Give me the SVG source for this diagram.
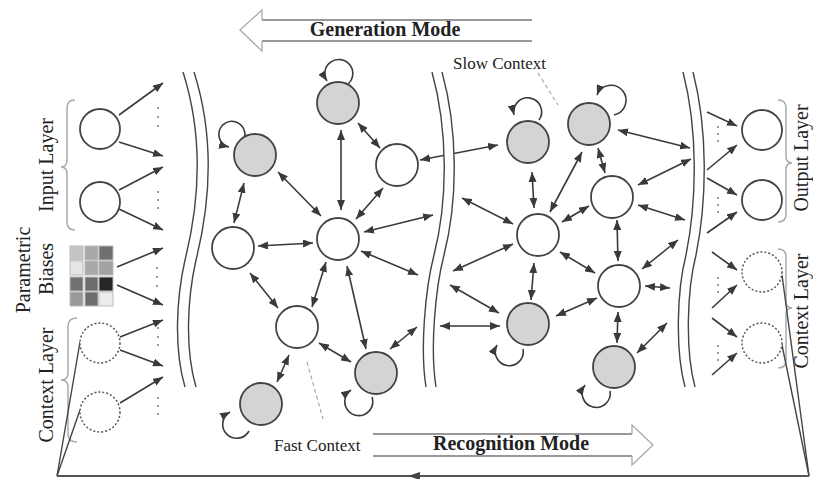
<svg xmlns="http://www.w3.org/2000/svg" width="813" height="479" viewBox="0 0 813 479">
<style>
.t{font-family:"Liberation Serif","Times New Roman",serif;fill:#222}
.b{font-weight:bold;font-size:20px}
.lab{font-size:20px}
.sm{font-size:17px}
.n{stroke:#444;stroke-width:1.8;fill:#fff}
.g{fill:#d4d4d4}
.d{stroke:#555;stroke-width:1.5;stroke-dasharray:2 2;fill:#fff}
.c line,.c path{stroke:#3a3a3a;stroke-width:1.6;fill:none}
.dbl{marker-start:url(#ah);marker-end:url(#ah)}
.one{marker-end:url(#ah)}
.loop{marker-end:url(#ah)}
.bd{stroke:#444;stroke-width:1.4;fill:none}
.band{stroke:#fff;stroke-width:10;fill:none}
.br{stroke:#aaa;stroke-width:1.5;fill:none}
.dot{fill:#777}
.mode{fill:none;stroke-width:1.3}
</style>
<defs>
<marker id="ah" viewBox="0 0 10 8" refX="10" refY="4" markerWidth="10" markerHeight="8" markerUnits="userSpaceOnUse" orient="auto-start-reverse">
<path d="M0,0 L10,4 L0,8 z" fill="#3a3a3a"/>
</marker>
</defs>

<!-- mode arrows -->
<g id="generation-mode">
<path class="mode" stroke="#777" d="M532,20 L262,20 M262,41 L532,41"/>
<path class="mode" stroke="#aaa" d="M262,20 L262,10 L240,30 L262,51 L262,41"/>
<text class="t b" x="385" y="36" text-anchor="middle">Generation Mode</text>
</g>
<g id="recognition-mode">
<path class="mode" stroke="#777" d="M373,434 L632,434 M632,456 L373,456"/>
<path class="mode" stroke="#aaa" d="M632,434 L632,425 L653,445 L632,465 L632,456"/>
<text class="t b" x="433" y="450">Recognition Mode</text>
</g>

<text class="t sm" x="453" y="69">Slow Context</text>
<text class="t sm" x="274" y="451">Fast Context</text>
<line x1="538" y1="73" x2="558" y2="105" stroke="#aaa" stroke-width="1.2" stroke-dasharray="4 3"/>
<line x1="307" y1="362" x2="323" y2="419" stroke="#aaa" stroke-width="1.2" stroke-dasharray="4 3"/>

<!-- side labels -->
<text class="t lab" text-anchor="middle" transform="translate(53,165) rotate(-90)">Input Layer</text>
<text class="t lab" text-anchor="middle" transform="translate(30,270) rotate(-90)">Parametric</text>
<text class="t lab" text-anchor="middle" transform="translate(53,269) rotate(-90)">Biases</text>
<text class="t lab" text-anchor="middle" transform="translate(53,385) rotate(-90)">Context Layer</text>
<text class="t lab" text-anchor="middle" transform="translate(808,158) rotate(-90)">Output Layer</text>
<text class="t lab" text-anchor="middle" transform="translate(808,311) rotate(-90)">Context Layer</text>

<!-- braces -->
<path class="br" d="M75,100 Q67,100 67,108 L67,160 Q67,167 61,167 Q67,167 67,174 L67,222 Q67,230 75,230"/>
<path class="br" d="M77,318 Q68,318 68,326 L68,373 Q68,380 61,380 Q68,380 68,387 L68,434 Q68,442 77,442"/>
<path class="br" d="M778,100 Q786,100 786,108 L786,156 Q786,163 792,163 Q786,163 786,170 L786,214 Q786,222 778,222"/>
<path class="br" d="M778,249 Q786,249 786,257 L786,301 Q786,308 792,308 Q786,308 786,315 L786,360 Q786,368 778,368"/>

<!-- parametric bias grid -->
<g id="bias-grid" stroke="#bbb" stroke-width="1">
<rect x="70" y="246" width="13" height="14" fill="#c4c4c4"/>
<rect x="85" y="246" width="13" height="14" fill="#a9a9a9"/>
<rect x="99" y="246" width="14" height="14" fill="#707070"/>
<rect x="70" y="261" width="13" height="14" fill="#e6e6e6"/>
<rect x="85" y="261" width="13" height="14" fill="#a9a9a9"/>
<rect x="99" y="261" width="14" height="14" fill="#a2a2a2"/>
<rect x="70" y="277" width="13" height="14" fill="#727272"/>
<rect x="85" y="277" width="13" height="14" fill="#6c6c6c"/>
<rect x="99" y="277" width="14" height="14" fill="#262626"/>
<rect x="70" y="292" width="13" height="14" fill="#9a9a9a"/>
<rect x="85" y="292" width="13" height="14" fill="#6c6c6c"/>
<rect x="99" y="292" width="14" height="14" fill="#ececec"/>
</g>

<!-- dots -->
<g id="dots" class="dot">
<circle cx="158" cy="108" r="1"/><circle cx="158" cy="117" r="1"/><circle cx="158" cy="126" r="1"/>
<circle cx="158" cy="192" r="1"/><circle cx="158" cy="200" r="1"/><circle cx="158" cy="208" r="1"/>
<circle cx="157" cy="268" r="1"/><circle cx="157" cy="277" r="1"/><circle cx="157" cy="286" r="1"/>
<circle cx="158" cy="328" r="1"/><circle cx="158" cy="337" r="1"/><circle cx="158" cy="345" r="1"/>
<circle cx="158" cy="398" r="1"/><circle cx="158" cy="406" r="1"/><circle cx="158" cy="414" r="1"/>
<circle cx="718" cy="127" r="1"/><circle cx="718" cy="134" r="1"/><circle cx="718" cy="141" r="1"/>
<circle cx="718" cy="198" r="1"/><circle cx="718" cy="205" r="1"/><circle cx="718" cy="212" r="1"/>
<circle cx="718" cy="278" r="1"/><circle cx="718" cy="285" r="1"/><circle cx="718" cy="292" r="1"/>
<circle cx="718" cy="346" r="1"/><circle cx="718" cy="353" r="1"/><circle cx="718" cy="360" r="1"/>
</g>

<!-- connectors -->
<g id="connectors" class="c">
<!-- input side -->
<line class="one" x1="119" y1="115" x2="163" y2="83"/>
<line class="one" x1="119" y1="142" x2="163" y2="156"/>
<line class="one" x1="119" y1="190" x2="163" y2="167"/>
<line class="one" x1="119" y1="209" x2="163" y2="230"/>
<line class="one" x1="117" y1="267" x2="163" y2="248"/>
<line class="one" x1="117" y1="285" x2="163" y2="305"/>
<line class="one" x1="120" y1="337" x2="163" y2="320"/>
<line class="one" x1="120" y1="350" x2="163" y2="366"/>
<line class="one" x1="120" y1="403" x2="163" y2="377"/>
<!-- output side -->
<line class="one" x1="707" y1="112" x2="737" y2="126"/>
<line class="one" x1="707" y1="170" x2="737" y2="145"/>
<line class="one" x1="707" y1="178" x2="737" y2="195"/>
<line class="one" x1="707" y1="233" x2="737" y2="212"/>
<line class="one" x1="712" y1="252" x2="737" y2="270"/>
<line class="one" x1="712" y1="308" x2="737" y2="285"/>
<line class="one" x1="712" y1="318" x2="737" y2="337"/>
<line class="one" x1="712" y1="375" x2="737" y2="353"/>
<!-- fast context section -->
<line class="dbl" x1="341" y1="130" x2="341" y2="210"/>
<line class="dbl" x1="358" y1="123" x2="380" y2="148"/>
<line class="dbl" x1="278" y1="172" x2="321" y2="216"/>
<line class="dbl" x1="383" y1="188" x2="356" y2="219"/>
<line class="dbl" x1="244" y1="183" x2="234" y2="223"/>
<line class="dbl" x1="258" y1="246" x2="313" y2="243"/>
<line class="dbl" x1="364" y1="232" x2="433" y2="215"/>
<line class="dbl" x1="420" y1="160" x2="498" y2="145"/>
<line class="dbl" x1="326" y1="262" x2="312" y2="307"/>
<line class="dbl" x1="250" y1="273" x2="278" y2="308"/>
<line class="dbl" x1="347" y1="266" x2="366" y2="349"/>
<line class="dbl" x1="361" y1="251" x2="418" y2="275"/>
<line class="dbl" x1="319" y1="343" x2="351" y2="362"/>
<line class="dbl" x1="390" y1="349" x2="417" y2="327"/>
<line class="dbl" x1="289" y1="355" x2="277" y2="382"/>
<!-- slow context section -->
<line class="dbl" x1="532" y1="172" x2="534" y2="208"/>
<line class="dbl" x1="582" y1="152" x2="550" y2="212"/>
<line class="dbl" x1="598" y1="148" x2="605" y2="173"/>
<line class="dbl" x1="618" y1="130" x2="690" y2="148"/>
<line class="dbl" x1="638" y1="185" x2="691" y2="159"/>
<line class="dbl" x1="638" y1="205" x2="685" y2="220"/>
<line class="dbl" x1="562" y1="222" x2="589" y2="206"/>
<line class="dbl" x1="462" y1="198" x2="513" y2="224"/>
<line class="dbl" x1="513" y1="244" x2="453" y2="271"/>
<line class="dbl" x1="534" y1="263" x2="531" y2="300"/>
<line class="dbl" x1="450" y1="285" x2="499" y2="313"/>
<line class="dbl" x1="440" y1="326" x2="500" y2="326"/>
<line class="dbl" x1="560" y1="252" x2="595" y2="273"/>
<line class="dbl" x1="617" y1="220" x2="618" y2="261"/>
<line class="dbl" x1="556" y1="316" x2="597" y2="298"/>
<line class="dbl" x1="642" y1="269" x2="678" y2="240"/>
<line class="dbl" x1="645" y1="286" x2="670" y2="288"/>
<line class="dbl" x1="618" y1="312" x2="617" y2="343"/>
<line class="dbl" x1="637" y1="353" x2="667" y2="323"/>
<!-- self loops -->
<path class="loop" d="M348,84 A14,14 0 1 0 327,81"/>
<path class="loop" d="M244,139 A13,13 0 1 0 229,147"/>
<path class="loop" d="M372,397 A14,14 0 1 1 351,390"/>
<path class="loop" d="M249,431 A14,14 0 1 1 230,412"/>
<path class="loop" d="M539,120 A14,14 0 1 0 514,115"/>
<path class="loop" d="M614,115 A15,15 0 1 0 597,95"/>
<path class="loop" d="M523,349 A14,14 0 1 1 497,345"/>
<path class="loop" d="M610,391 A14,14 0 1 1 585,385"/>
<!-- context feedback -->
<line x1="57" y1="476" x2="80" y2="342" style="stroke:#444;stroke-width:1.4"/>
<line x1="57" y1="476" x2="80" y2="410" style="stroke:#444;stroke-width:1.4"/>
<line x1="809" y1="476" x2="782" y2="275" style="stroke:#444;stroke-width:1.4"/>
<line x1="809" y1="476" x2="782" y2="345" style="stroke:#444;stroke-width:1.4"/>
<line x1="57" y1="476" x2="809" y2="476" style="stroke:#555;stroke-width:2"/>
</g>
<polygon points="408,476 420,472 420,480" fill="#444"/>

<!-- boundaries -->
<g id="boundary-left">
<path class="band" d="M188,72 C208,135 205,200 190,260 C181,300 179,350 190,387"/>
<path class="bd" d="M183,72 C203,135 200,200 185,260 C176,300 174,350 185,387"/>
<path class="bd" d="M194,72 C214,135 211,200 196,260 C187,300 185,350 196,387"/>
</g>
<g id="boundary-middle">
<path class="band" d="M437,72 C453,130 453,200 439,255 C430,290 425,350 431,387"/>
<path class="bd" d="M432,72 C448,130 448,200 434,255 C425,290 420,350 426,387"/>
<path class="bd" d="M442,72 C458,130 458,200 444,255 C435,290 430,350 436,387"/>
</g>
<g id="boundary-right">
<path class="band" d="M688,72 C703,130 702,200 691,255 C682,290 680,350 690,387"/>
<path class="bd" d="M683,72 C698,130 697,200 686,255 C677,290 675,350 685,387"/>
<path class="bd" d="M693,72 C708,130 707,200 696,255 C687,290 685,350 695,387"/>
</g>

<!-- layer nodes -->
<g id="input-1"><circle class="n" cx="100" cy="129" r="20"/></g>
<g id="input-2"><circle class="n" cx="100" cy="202" r="20"/></g>
<g id="context-in-1"><circle class="d" cx="100" cy="343" r="20"/></g>
<g id="context-in-2"><circle class="d" cx="100" cy="412" r="20"/></g>
<g id="output-1"><circle class="n" cx="762" cy="130" r="20"/></g>
<g id="output-2"><circle class="n" cx="762" cy="200" r="20"/></g>
<g id="context-out-1"><circle class="d" cx="762" cy="272" r="20"/></g>
<g id="context-out-2"><circle class="d" cx="762" cy="343" r="20"/></g>

<!-- fast context nodes -->
<g id="fA"><circle class="n g" cx="338" cy="103" r="21"/></g>
<g id="fB"><circle class="n g" cx="255" cy="155" r="21"/></g>
<g id="fC"><circle class="n" cx="397" cy="165" r="21"/></g>
<g id="fD"><circle class="n" cx="338" cy="239" r="21"/></g>
<g id="fE"><circle class="n" cx="233" cy="248" r="21"/></g>
<g id="fF"><circle class="n" cx="297" cy="327" r="21"/></g>
<g id="fG"><circle class="n g" cx="376" cy="373" r="21"/></g>
<g id="fH"><circle class="n g" cx="261" cy="404" r="21"/></g>

<!-- slow context nodes -->
<g id="sI"><circle class="n g" cx="528" cy="142" r="21"/></g>
<g id="sJ"><circle class="n g" cx="589" cy="124" r="21"/></g>
<g id="sK"><circle class="n" cx="612" cy="197" r="21"/></g>
<g id="sL"><circle class="n" cx="538" cy="235" r="21"/></g>
<g id="sM"><circle class="n g" cx="528" cy="324" r="21"/></g>
<g id="sN"><circle class="n" cx="619" cy="286" r="21"/></g>
<g id="sO"><circle class="n g" cx="614" cy="367" r="21"/></g>
</svg>
